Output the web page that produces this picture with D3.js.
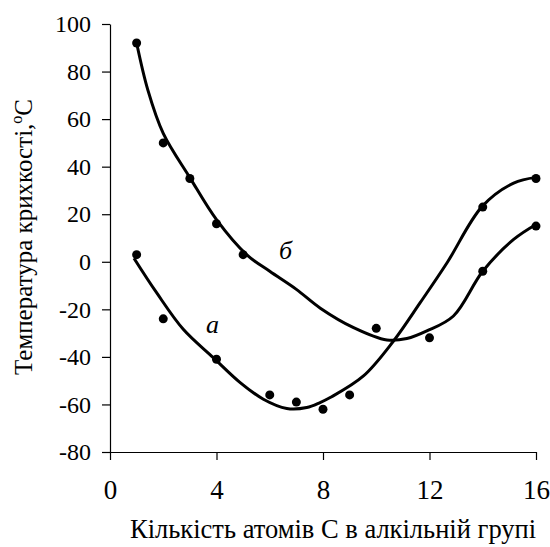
<!DOCTYPE html>
<html>
<head>
<meta charset="utf-8">
<script src="https://cdn.jsdelivr.net/npm/d3@7"></script>
<style>
  body { margin: 0; background: #fff; }
  svg text { font-family: "Liberation Serif", Tinos, serif !important; }
</style>
</head>
<body>
<svg width="550" height="547"></svg>
<script>
// measured points
var xA = [1, 2, 4, 6, 7, 8, 9, 14, 16]
var yA = [3, -24, -41, -56, -59, -62, -56, 23, 35]
var xB = [1, 2, 3, 4, 5, 10, 12, 14, 16]
var yB = [92, 50, 35, 16, 3, -28, -32, -4, 15]

// trend curves
var curveAx = [0.9, 1.75, 2.76, 3.88, 4.89, 5.76, 6.64, 7.39, 7.89, 8.27, 9.52, 10.65, 11.65, 12.66, 13.98, 15.16, 16]
var curveAy = [1.5, -13, -28.5, -40.3, -50.8, -57.8, -61.7, -61.3, -59.2, -57.1, -48, -33.3, -17.2, -0.4, 23.3, 33.1, 35.5]
var curveBx = [1, 1.42, 2, 3, 4, 5.14, 6, 7, 7.9, 9.15, 10.4, 11.15, 11.9, 12.9, 14, 15.16, 16]
var curveBy = [92, 72.3, 54, 35.4, 17.7, 2.9, -4, -11.6, -19.5, -27.7, -32.9, -32.3, -29.1, -22.8, -4, 9.4, 15.7]

var xTicks = [0, 4, 8, 12, 16]
var yTicks = [-80, -60, -40, -20, 0, 20, 40, 60, 80, 100]

var FONT = "Liberation Serif"

var svg = d3.select("svg")

var x = d3.scaleLinear().domain([0, 16]).range([110, 536])
var y = d3.scaleLinear().domain([-80, 100]).range([452, 24])

var xAxis = svg.append("g")
  .attr("transform", "translate(0," + y(-80) + ")")
  .call(d3.axisBottom(x).tickValues(xTicks).tickSize(8).tickSizeOuter(0).tickPadding(20))
var yAxis = svg.append("g")
  .attr("transform", "translate(" + x(0) + ",0)")
  .call(d3.axisLeft(y).tickValues(yTicks).tickSize(8).tickSizeOuter(0).tickPadding(11)
    .tickFormat(function (d) { return d < 0 ? "-" + Math.abs(d) : d }))

svg.selectAll(".domain, .tick line").attr("stroke", "#000").attr("stroke-width", 1.2)
xAxis.attr("font-family", FONT).attr("font-size", 27)
yAxis.attr("font-family", FONT).attr("font-size", 24)
svg.selectAll(".tick text").attr("fill", "#000").attr("font-family", FONT)

var line = d3.line()
  .x(function (d) { return x(d[0]) })
  .y(function (d) { return y(d[1]) })
  .curve(d3.curveCatmullRom)

svg.append("path")
  .datum(d3.zip(curveAx, curveAy))
  .attr("d", line)
  .attr("fill", "none").attr("stroke", "#000").attr("stroke-width", 3)
svg.append("path")
  .datum(d3.zip(curveBx, curveBy))
  .attr("d", line)
  .attr("fill", "none").attr("stroke", "#000").attr("stroke-width", 3)

var pts = d3.zip(xA, yA).concat(d3.zip(xB, yB))
svg.selectAll("circle.pt")
  .data(pts)
  .enter().append("circle")
    .attr("class", "pt")
    .attr("cx", function (d) { return x(d[0]) })
    .attr("cy", function (d) { return y(d[1]) })
    .attr("r", 4.5)
    .attr("fill", "#000")

// curve labels
svg.append("text").attr("x", 206).attr("y", 333)
  .attr("font-family", FONT).attr("font-size", 26).attr("font-style", "italic").text("а")
svg.append("text").attr("x", 279).attr("y", 259)
  .attr("font-family", FONT).attr("font-size", 26).attr("font-style", "italic").text("б")

// axis titles
svg.append("text")
  .attr("x", 130).attr("y", 538)
  .attr("font-family", FONT).attr("font-size", 26.5)
  .text("Кількість атомів С в алкільній групі")

var yt = svg.append("text")
  .attr("transform", "translate(32,237) rotate(-90)")
  .attr("text-anchor", "middle")
  .attr("font-family", FONT).attr("font-size", 25)
yt.append("tspan").text("Температура крихкості,")
yt.append("tspan").attr("dy", -10).attr("font-size", 16).text("o")
yt.append("tspan").attr("dy", 10).text("C")
</script>
</body>
</html>
